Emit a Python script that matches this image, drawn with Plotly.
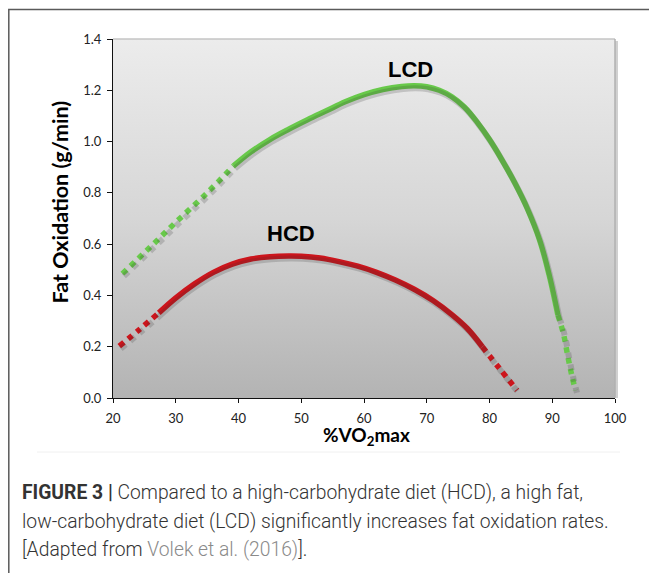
import base64
import plotly.graph_objects as go

# ---- data ----
lcd_lo_x = [21.5, 26, 30, 35, 39.2]
lcd_lo_y = [0.485, 0.59, 0.685, 0.80, 0.905]
lcd_x = [39.2, 42, 45, 48, 51, 54, 57, 60, 63, 66, 68, 70, 72, 74, 76, 78, 80, 82, 84, 86, 88, 89.5, 90.9]
lcd_y = [0.905, 0.96, 1.008, 1.048, 1.085, 1.12, 1.155, 1.183, 1.203, 1.215, 1.218, 1.214, 1.2, 1.175,
         1.135, 1.077, 1.008, 0.928, 0.84, 0.74, 0.615, 0.48, 0.323]
lcd_hi_x = [90.9, 91.8, 92.5, 93.1, 93.7]
lcd_hi_y = [0.323, 0.249, 0.16, 0.09, 0.03]

hcd_lo_x = [21.0, 24.2, 27.3]
hcd_lo_y = [0.202, 0.267, 0.332]
hcd_x = [27.3, 30, 33, 36, 39, 42, 45, 48, 50, 53, 56, 59, 62, 65, 68, 71, 74, 76.5, 78.85]
hcd_y = [0.332, 0.39, 0.445, 0.49, 0.522, 0.542, 0.551, 0.554, 0.553, 0.546, 0.532, 0.514, 0.49,
         0.46, 0.424, 0.38, 0.325, 0.27, 0.2]
hcd_hi_x = [78.85, 81.6, 84.4]
hcd_hi_y = [0.2, 0.115, 0.03]

x_ticks = [20, 30, 40, 50, 60, 70, 80, 90, 100]
y_ticks = [0.0, 0.2, 0.4, 0.6, 0.8, 1.0, 1.2, 1.4]

labels = [("LCD", 67.4, 1.28), ("HCD", 48.3, 0.642)]

GREEN = "#68c94a"
RED = "#cc151c"
SHADOW = "rgba(50,50,50,0.20)"

# ---- layout geometry (page body has an 8px margin) ----
OFF = 8
W, H = 657 - OFF, 573 - OFF
L, R, T, B = 113 - OFF, 50 - OFF, 39 - OFF, 183 - OFF
XR = [20, 100]
YR = [0, 1.4]
pw = W - L - R
ph = H - T - B
dx_shift = 1.5 * (XR[1] - XR[0]) / pw
dy_shift = 2.5 * (YR[1] - YR[0]) / ph


def px_x(p):
    return (p - OFF - L) / pw


def px_y(p):
    return (H - B - (p - OFF)) / ph


fig = go.Figure()

segments = [
    (lcd_lo_x, lcd_lo_y, GREEN, "dot"),
    (lcd_x, lcd_y, GREEN, "solid"),
    (lcd_hi_x, lcd_hi_y, GREEN, "dot"),
    (hcd_lo_x, hcd_lo_y, RED, "dot"),
    (hcd_x, hcd_y, RED, "solid"),
    (hcd_hi_x, hcd_hi_y, RED, "dot"),
]

for xs, ys, col, dash in segments:
    fig.add_trace(go.Scatter(x=xs, y=ys, mode="lines", xaxis="x2", yaxis="y2",
                             line=dict(color=SHADOW, width=6, dash=dash, shape="spline", smoothing=1.0),
                             hoverinfo="skip", showlegend=False))
for xs, ys, col, dash in segments:
    fig.add_trace(go.Scatter(x=xs, y=ys, mode="lines",
                             line=dict(color=col, width=5.5, dash=dash, shape="spline", smoothing=1.0),
                             showlegend=False))

for txt, lx, ly in labels:
    fig.add_annotation(x=lx, y=ly, text="<b>%s</b>" % txt, showarrow=False,
                       font=dict(family="Liberation Sans, Arial, sans-serif", size=22, color="#000"))

svg = ('<svg xmlns="http://www.w3.org/2000/svg" width="100" height="100" preserveAspectRatio="none">'
       '<defs><linearGradient id="g" x1="0" y1="0" x2="0" y2="1">'
       '<stop offset="0" stop-color="#ececec"/><stop offset="0.5" stop-color="#d6d6d6"/>'
       '<stop offset="1" stop-color="#b3b3b3"/></linearGradient></defs>'
       '<rect width="100" height="100" fill="url(#g)"/></svg>')
src = "data:image/svg+xml;base64," + base64.b64encode(svg.encode()).decode()

shapes = [
    dict(type="rect", xref="paper", yref="paper", x0=1, x1=1 + 3 / pw, y0=0, y1=1 - 2 / ph,
         fillcolor="rgba(120,120,120,0.35)", line=dict(width=0), layer="below"),
    dict(type="line", xref="paper", yref="paper", x0=0, x1=1, y0=1, y1=1,
         line=dict(color="#c4c4c4", width=1.5)),
    dict(type="line", xref="paper", yref="paper", x0=1, x1=1, y0=0, y1=1,
         line=dict(color="#b0b0b0", width=1.5)),
    dict(type="line", xref="paper", yref="paper", x0=px_x(37), x1=px_x(620), y0=px_y(452), y1=px_y(452),
         line=dict(color="#f0f0f0", width=1)),
    dict(type="rect", xref="paper", yref="paper", x0=px_x(8.8), x1=px_x(700), y0=px_y(9.5), y1=px_y(640),
         line=dict(color="#5a5a5a", width=1.5), fillcolor="rgba(0,0,0,0)"),
]

caption_font = dict(family="Roboto, Arial, sans-serif", size=19.3, color="#333333", weight=300)
captions = [
    ("<b>FIGURE 3 |</b> Compared to a high-carbohydrate diet (HCD), a high fat,", 492),
    ("low-carbohydrate diet (LCD) significantly increases fat oxidation rates.", 521),
    ("[Adapted from <span style='color:#8a8a8a'>Volek et al. (2016)</span>].", 549),
]
for txt, py in captions:
    fig.add_annotation(xref="paper", yref="paper", x=px_x(20), y=px_y(py), xanchor="left", yanchor="middle",
                       text=txt, showarrow=False, font=caption_font, align="left")

fig.add_annotation(xref="paper", yref="paper", x=px_x(366), y=px_y(435.5), text="<b>%VO<sub>2</sub>max</b>",
                   showarrow=False, font=dict(family="Lato, Carlito, sans-serif", size=19, color="#000"),
                   xanchor="center", yanchor="middle")
fig.add_annotation(xref="paper", yref="paper", x=px_x(59.5), y=px_y(202), text="<b>Fat Oxidation (g/min)</b>",
                   showarrow=False, font=dict(family="Lato, Carlito, sans-serif", size=21.5, color="#000"),
                   textangle=-90, xanchor="center", yanchor="middle")

tick_font = dict(family="Lato, Carlito, sans-serif", size=13, color="#222")
fig.update_layout(
    width=W, height=H, margin=dict(l=L, r=R, t=T, b=B),
    paper_bgcolor="white", plot_bgcolor="rgba(0,0,0,0)",
    images=[dict(source=src, xref="paper", yref="paper", x=0, y=1, sizex=1, sizey=1,
                 sizing="stretch", layer="below", xanchor="left", yanchor="top")],
    shapes=shapes,
    xaxis=dict(range=XR, tickvals=x_ticks, ticktext=[str(v) for v in x_ticks], showgrid=False,
               zeroline=False, showline=True, linecolor="#111", linewidth=1.2, ticks="outside",
               ticklen=4, tickcolor="#111", tickfont=tick_font, ticklabelstandoff=4, fixedrange=True),
    yaxis=dict(range=YR, tickvals=y_ticks, ticktext=["%.1f" % v for v in y_ticks], showgrid=False,
               zeroline=False, showline=True, linecolor="#111", linewidth=1.2, ticks="outside",
               ticklen=5, tickcolor="#111", tickfont=tick_font, ticklabelstandoff=3, fixedrange=True),
    xaxis2=dict(range=[XR[0] - dx_shift, XR[1] - dx_shift], overlaying="x", visible=False, fixedrange=True),
    yaxis2=dict(range=[YR[0] + dy_shift, YR[1] + dy_shift], overlaying="y", visible=False, fixedrange=True),
    showlegend=False,
)

fig.write_html("out.html")
